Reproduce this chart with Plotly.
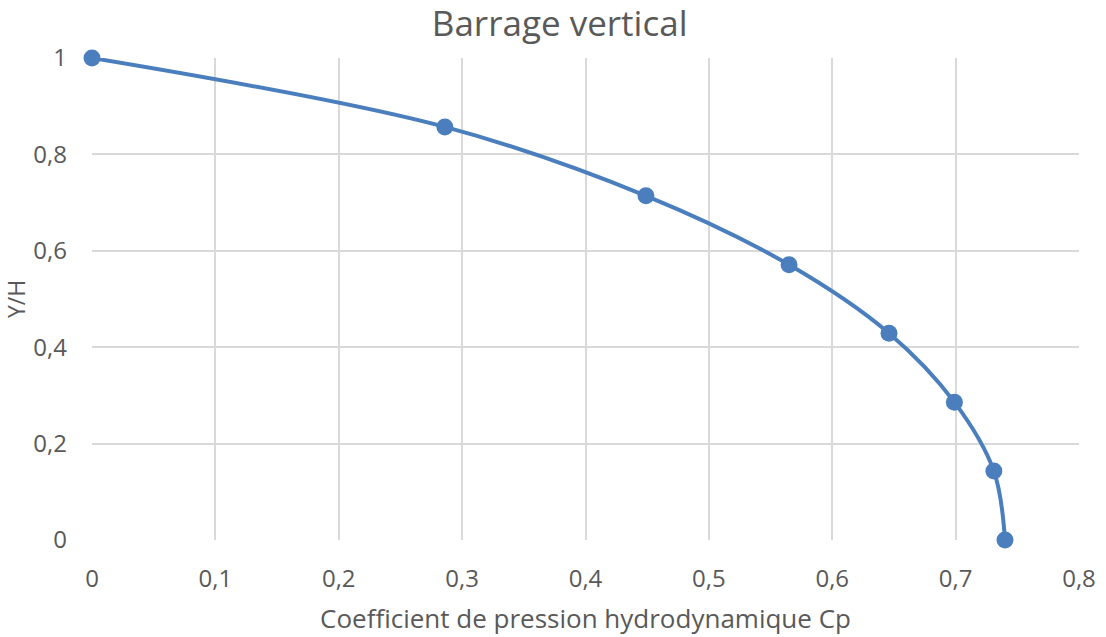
import plotly.graph_objects as go

# Hydrodynamic pressure coefficient along the height of a vertical dam face
cp_values = [0.0, 0.286, 0.449, 0.565, 0.646, 0.699, 0.731, 0.740]
y_over_h = [1.0, 0.857, 0.714, 0.571, 0.429, 0.286, 0.143, 0.0]

x_tick_vals = [0, 0.1, 0.2, 0.3, 0.4, 0.5, 0.6, 0.7, 0.8]
x_tick_text = ["0", "0,1", "0,2", "0,3", "0,4", "0,5", "0,6", "0,7", "0,8"]
y_tick_vals = [0, 0.2, 0.4, 0.6, 0.8, 1]
y_tick_text = ["0", "0,2", "0,4", "0,6", "0,8", "1"]

BLUE = "#4a7ebd"
TEXT = "#595959"
GRID = "#d9d9d9"
FONT = "Open Sans"

fig = go.Figure()
fig.add_trace(go.Scatter(
    x=cp_values,
    y=y_over_h,
    mode="lines+markers",
    line=dict(color=BLUE, width=4, shape="spline", smoothing=1.0),
    marker=dict(color=BLUE, size=17),
    showlegend=False,
    cliponaxis=False,
))

fig.update_layout(
    width=1106,
    height=637,
    margin=dict(l=92, r=27, t=58, b=97),
    paper_bgcolor="white",
    plot_bgcolor="white",
    font=dict(family=FONT, color=TEXT),
    title=dict(
        text="Barrage vertical",
        x=0.506, xanchor="center",
        y=0.963, yanchor="middle",
        font=dict(family=FONT, size=35, color=TEXT),
    ),
    xaxis=dict(
        range=[0, 0.8],
        tickvals=x_tick_vals,
        ticktext=x_tick_text,
        showgrid=True, gridcolor=GRID, gridwidth=1.5,
        zeroline=False, showline=False, ticks="",
        ticklabelstandoff=22,
        tickfont=dict(family=FONT, size=24, color=TEXT),
        title=dict(text="Coefficient de pression hydrodynamique Cp",
                   font=dict(family=FONT, size=26, color=TEXT), standoff=16),
        automargin=False,
        fixedrange=True,
    ),
    yaxis=dict(
        range=[0, 1],
        tickvals=y_tick_vals,
        ticktext=y_tick_text,
        showgrid=True, gridcolor=GRID, gridwidth=1.5,
        zeroline=False, showline=False, ticks="",
        ticklabelstandoff=24,
        tickfont=dict(family=FONT, size=24, color=TEXT),
        title=dict(text="Y/H", font=dict(family=FONT, size=23, color=TEXT), standoff=10),
        automargin=False,
        fixedrange=True,
    ),
)

fig.write_html("out.html")
